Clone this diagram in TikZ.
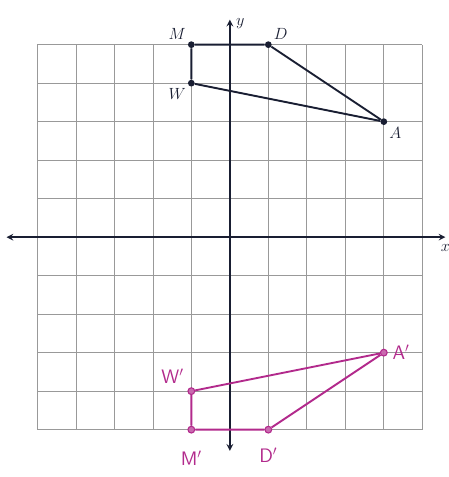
\documentclass[tikz,border=0pt]{standalone}
\usepackage{xcolor}
\usepackage{tikz}
\usetikzlibrary{positioning}
\definecolor{ink}{RGB}{25,30,50}
\definecolor{pen}{RGB}{178,42,140}

\begin{document}
\begin{tikzpicture}[>=stealth,
  gridline/.style={gray!80, line width=0.5pt},
  axis/.style={<->, very thick, ink},
  pt/.style={circle, fill=ink, inner sep=0pt, minimum size=5pt},
  ptm/.style={circle, draw=pen, fill=pen!70, line width=0.8pt, inner sep=0pt, minimum size=5pt},
  side/.style={ink, line width=1.4pt},
  sidem/.style={pen, line width=1.4pt},
  lbl/.style={font=\large\itshape, ink, inner sep=2pt},
  lblm/.style={font=\Large\sffamily, pen}
]
  \useasboundingbox (-5.97,-6.23) rectangle (5.69,6.16);
  \draw[gridline] (-5,-5) grid (5,5);

  % axes
  \coordinate (xl) at (-5.8,0);
  \coordinate (xr) at (5.6,0);
  \coordinate (yb) at (0,-5.55);
  \coordinate (yt) at (0,5.65);
  \draw[axis] (xl) -- (xr) node[below=3pt, lbl] {$x$};
  \draw[axis] (yb) -- (yt) node[right=2pt, lbl, yshift=-3pt] {$y$};

  % original figure
  \node[pt, label={[lbl]above left:$M$}] (M) at (-1,5) {};
  \node[pt, label={[lbl]above right:$D$}] (D) at (1,5) {};
  \node[pt, label={[lbl]below right:$A$}] (A) at (4,3) {};
  \node[pt, label={[lbl]below left:$W$}] (W) at (-1,4) {};
  \draw[side] (M) -- (D) -- (A) -- (W) -- (M);

  % image
  \node[ptm, label={[lblm]above left:W$'$}] (W1) at (-1,-4) {};
  \node[ptm, label={[lblm]right:A$'$}] (A1) at (4,-3) {};
  \node[ptm, label={[lblm, yshift=-9pt]below:M$'$}] (M1) at (-1,-5) {};
  \node[ptm, label={[lblm, yshift=-7pt]below:D$'$}] (D1) at (1,-5) {};
  \draw[sidem] (W1) -- (A1) -- (D1) -- (M1) -- (W1);
\end{tikzpicture}
\end{document}
